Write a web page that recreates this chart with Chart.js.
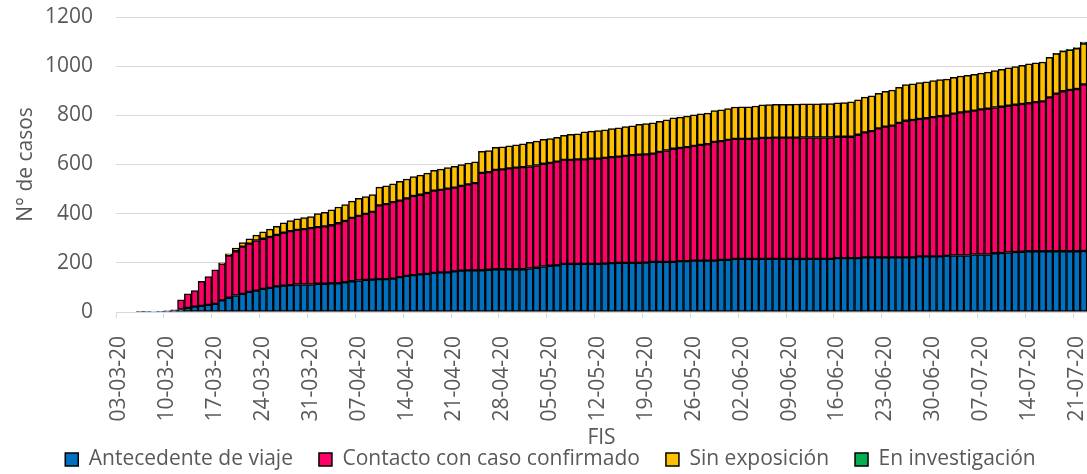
<!DOCTYPE html>
<html>
<head>
<meta charset="utf-8">
<script src="https://cdn.jsdelivr.net/npm/chart.js@4.4.1/dist/chart.umd.min.js"></script>
<style>
  body { margin: 0; background: #fff; }
  #wrap { width: 1087px; height: 474px; position: relative; }
</style>
</head>
<body>
<div id="wrap"><canvas id="grafico"></canvas></div>
<script>
// fechas de inicio de síntomas (FIS)
const fechas = [
  '03-03-20','04-03-20','05-03-20','06-03-20','07-03-20','08-03-20','09-03-20','10-03-20','11-03-20','12-03-20',
  '13-03-20','14-03-20','15-03-20','16-03-20','17-03-20','18-03-20','19-03-20','20-03-20','21-03-20','22-03-20',
  '23-03-20','24-03-20','25-03-20','26-03-20','27-03-20','28-03-20','29-03-20','30-03-20','31-03-20',
  '01-04-20','02-04-20','03-04-20','04-04-20','05-04-20','06-04-20','07-04-20','08-04-20','09-04-20','10-04-20',
  '11-04-20','12-04-20','13-04-20','14-04-20','15-04-20','16-04-20','17-04-20','18-04-20','19-04-20','20-04-20',
  '21-04-20','22-04-20','23-04-20','24-04-20','25-04-20','26-04-20','27-04-20','28-04-20','29-04-20','30-04-20',
  '01-05-20','02-05-20','03-05-20','04-05-20','05-05-20','06-05-20','07-05-20','08-05-20','09-05-20','10-05-20',
  '11-05-20','12-05-20','13-05-20','14-05-20','15-05-20','16-05-20','17-05-20','18-05-20','19-05-20','20-05-20',
  '21-05-20','22-05-20','23-05-20','24-05-20','25-05-20','26-05-20','27-05-20','28-05-20','29-05-20','30-05-20','31-05-20',
  '01-06-20','02-06-20','03-06-20','04-06-20','05-06-20','06-06-20','07-06-20','08-06-20','09-06-20','10-06-20',
  '11-06-20','12-06-20','13-06-20','14-06-20','15-06-20','16-06-20','17-06-20','18-06-20','19-06-20','20-06-20',
  '21-06-20','22-06-20','23-06-20','24-06-20','25-06-20','26-06-20','27-06-20','28-06-20','29-06-20','30-06-20',
  '01-07-20','02-07-20','03-07-20','04-07-20','05-07-20','06-07-20','07-07-20','08-07-20','09-07-20','10-07-20',
  '11-07-20','12-07-20','13-07-20','14-07-20','15-07-20','16-07-20','17-07-20','18-07-20','19-07-20','20-07-20',
  '21-07-20','22-07-20'
]

// solo se muestra una etiqueta por semana
const etiquetasEje = [
  '03-03-20','10-03-20','17-03-20','24-03-20','31-03-20','07-04-20','14-04-20','21-04-20','28-04-20','05-05-20',
  '12-05-20','19-05-20','26-05-20','02-06-20','09-06-20','16-06-20','23-06-20','30-06-20','07-07-20','14-07-20','21-07-20'
]
const ticksY = [0, 200, 400, 600, 800, 1000, 1200]

// casos acumulados por categoria
const antecedenteViaje = [
  0,0,0,1,1,2,3,4,6,10,
  17,22,25,29,33,47,58,67,74,82,
  87,94,98,104,107,109,112,112,112,115,
  115,117,117,121,125,128,131,132,134,134,
  136,142,147,150,153,155,159,161,161,165,
  168,169,169,170,172,174,174,174,174,174,
  177,180,185,188,190,196,196,196,196,196,
  196,197,199,200,200,200,200,201,204,204,
  204,204,207,207,209,209,209,209,212,212,
  216,216,216,216,216,216,216,216,216,216,
  216,216,216,216,216,219,219,219,219,222,
  222,222,222,222,222,222,222,226,226,226,
  226,228,230,230,230,234,234,234,239,240,
  242,244,245,247,247,247,247,247,247,247,
  247,248
]
const contactoConfirmado = [
  0,0,0,0,0,0,0,1,3,40,
  57,65,100,115,139,149,171,180,192,196,
  204,204,207,210,216,220,222,225,229,230,
  233,236,244,249,258,263,268,275,300,305,
  311,311,315,322,324,329,335,336,341,341,
  345,350,355,396,397,404,406,410,413,415,
  415,416,418,418,422,423,423,425,425,428,
  428,430,431,432,435,438,440,440,440,447,
  453,460,460,464,467,471,474,483,483,488,
  488,488,488,489,492,492,493,493,493,493,
  494,494,494,494,494,494,494,494,502,509,
  514,525,532,536,547,556,559,559,562,567,
  571,571,577,582,585,585,590,593,593,595,
  597,599,601,602,607,610,626,641,651,656,
  660,678
]
const sinExposicion = [
  0,0,0,0,0,0,0,0,0,0,
  0,0,0,0,0,4,8,13,16,20,
  22,28,32,34,40,43,45,47,47,55,
  57,63,66,67,68,71,71,71,74,74,
  74,79,79,79,80,81,82,84,85,87,
  87,87,87,88,88,92,92,92,93,95,
  98,99,99,99,99,100,104,104,112,112,
  114,114,116,117,119,119,123,125,125,125,
  125,126,126,126,126,126,126,127,127,127,
  130,131,131,133,135,136,136,136,136,137,
  137,137,137,138,138,138,139,142,142,143,
  143,143,144,145,145,147,147,148,148,148,
  148,148,148,148,148,148,148,149,150,152,
  154,155,157,160,160,160,163,163,163,163,
  166,166
]
const enInvestigacion = [
  0,0,0,0,0,0,0,0,0,0,
  0,0,0,0,0,0,0,0,0,0,
  0,0,0,0,0,0,0,0,0,0,
  0,0,0,0,0,0,0,0,0,0,
  0,0,0,0,0,0,0,0,0,0,
  0,0,0,0,0,0,0,0,0,0,
  0,0,0,0,0,0,0,0,0,0,
  0,0,0,0,0,0,0,0,0,0,
  0,0,0,0,0,0,0,0,0,0,
  0,0,0,0,0,0,0,0,0,0,
  0,0,0,0,0,0,0,0,0,0,
  0,0,0,0,0,0,0,0,0,0,
  0,0,0,0,0,0,0,0,0,0,
  0,0,0,0,0,0,0,1,2,2,
  3,6
]

const gris = '#595959'
Chart.defaults.font.family = '"Open Sans", sans-serif'
Chart.defaults.font.size = 21
Chart.defaults.color = gris

function serie(label, data, color) {
  return {
    label: label,
    data: data,
    backgroundColor: color,
    borderColor: '#000',
    borderWidth: 1.5,
    borderSkipped: false,
    categoryPercentage: 1,
    barPercentage: 1
  }
}

// la leyenda va pegada al titulo del eje, como en el original
const moverLeyenda = {
  id: 'moverLeyenda',
  afterLayout(chart) {
    const lg = chart.legend
    lg.top = 423
    lg.bottom = 474
    lg.left += 7
    lg.right += 7
  }
}

const ctx = document.getElementById('grafico').getContext('2d')
new Chart(ctx, {
  type: 'bar',
  data: {
    labels: fechas,
    datasets: [
      serie('Antecedente de viaje', antecedenteViaje, '#0070C0'),
      serie('Contacto con caso confirmado', contactoConfirmado, '#FF0066'),
      serie('Sin exposición', sinExposicion, '#FFC000'),
      serie('En investigación', enInvestigacion, '#00B050')
    ]
  },
  plugins: [moverLeyenda],
  options: {
    responsive: true,
    maintainAspectRatio: false,
    animation: false,
    layout: { padding: { top: 17, right: 0, left: 0, bottom: 0 } },
    plugins: {
      tooltip: { enabled: false },
      legend: {
        position: 'bottom',
        maxHeight: 23,
        labels: { boxWidth: 13, boxHeight: 13, padding: 26, color: gris }
      }
    },
    scales: {
      x: {
        stacked: true,
        grid: {
          drawOnChartArea: false,
          tickLength: 6,
          color: function(c) {
            return etiquetasEje.includes(fechas[c.index]) ? '#d9d9d9' : 'rgba(0,0,0,0)'
          }
        },
        border: { display: true, color: '#d9d9d9' },
        ticks: {
          autoSkip: false,
          minRotation: 90,
          maxRotation: 90,
          padding: 18,
          callback: function(val) {
            const l = this.getLabelForValue(val)
            return etiquetasEje.includes(l) ? l : ''
          }
        },
        title: { display: true, text: 'FIS', padding: { top: 0, bottom: 0 } },
        afterFit: function(scale) {
          scale.paddingRight = 0
          scale.paddingLeft = 0
          scale.height = 139
        }
      },
      y: {
        stacked: true,
        min: ticksY[0],
        max: ticksY[ticksY.length - 1],
        grid: { color: '#d9d9d9', drawTicks: false },
        border: { display: false },
        ticks: { stepSize: 200, padding: 23, callback: v => String(v) },
        title: { display: true, text: 'N° de casos', padding: { top: 13, bottom: 0 } },
        afterFit: function(scale) {
          scale.width = 116
          scale.paddingTop = 0
          scale.paddingBottom = 0
        }
      }
    }
  }
})
</script>
</body>
</html>
